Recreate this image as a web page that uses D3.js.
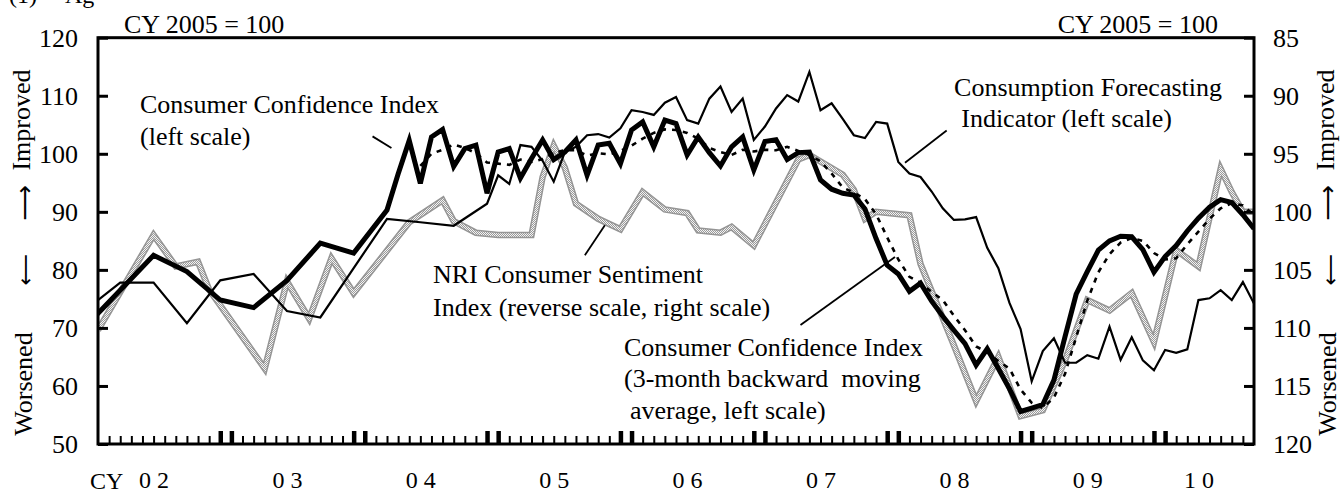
<!DOCTYPE html>
<html><head><meta charset="utf-8">
<script src="https://cdn.jsdelivr.net/npm/d3@7/dist/d3.min.js"></script>
<style>
body{margin:0;background:#fff}
svg{display:block}
text{font-family:"Liberation Serif","Times New Roman",serif;fill:#000}
</style>
</head><body>
<svg id="chart" width="1343" height="493"></svg>
<script>
// ---- data (month index: 0 = Jan 2002) ----
const cciMonths = [-1,2,5,8,11,14,17,20,23,26,27,28,29,30,31,32,33,34,35,36,37,38,39,40,41,42,43,44,45,46,47,48,49,50,51,52,53,54,55,56,57,58,59,60,61,62,63,64,65,66,67,68,69,70,71,72,73,74,75,76,77,78,79,80,81,82,83,84,85,86,87,88,89,90,91,92,93,94,95,96,97,98,99,100,101,102,103,104];
const cciValues = [70.5,76.5,82.5,79.7,74.8,73.5,78.2,84.6,82.9,90.3,96.5,102.3,94.9,102.9,104.2,97.8,100.9,101.5,93.2,100.3,100.9,95.8,99.2,102.4,99.0,100.3,102.4,96.3,101.5,101.8,98.3,104.1,105.5,101.2,105.8,105.2,99.8,102.9,100.2,97.9,101.2,102.9,97.2,102.1,102.4,99.0,100.2,100.3,95.5,93.9,93.2,92.9,90.5,85.4,80.8,79.3,76.3,77.7,74.6,72.0,69.6,67.3,63.6,66.4,63.0,59.5,55.6,56.2,56.8,61.0,68.5,75.8,79.7,83.4,85.0,85.8,85.7,83.5,79.6,82.3,84.2,86.7,88.9,90.8,92.1,91.6,89.5,87.1];

const maMonths = [29,30,31,32,33,34,35,36,37,38,39,40,41,42,43,44,45,46,47,48,49,50,51,52,53,54,55,56,57,58,59,60,61,62,63,64,65,66,67,68,69,70,71,72,73,74,75,76,77,78,79,80,81,82,83,84,85,86,87,88,89,90,91,92,93,94,95,96,97,98,99,100,101,102,103,104];
const maValues = [97.9,100.0,100.7,101.6,101.0,100.1,98.5,98.3,98.1,99.0,98.6,99.1,100.2,100.6,100.6,99.7,100.1,99.9,100.5,101.4,102.6,103.6,104.2,104.1,103.6,102.6,101.0,100.3,99.8,100.7,100.4,100.7,100.6,101.2,100.5,99.8,98.7,96.6,94.2,93.3,92.2,89.6,85.6,81.8,78.8,77.8,76.2,74.8,72.1,69.6,66.8,65.8,64.3,63.0,59.4,57.1,56.2,58.0,62.1,68.4,74.7,79.6,82.7,84.7,85.5,85.0,82.9,81.8,82.0,84.4,86.6,88.8,90.6,91.5,91.1,89.4];

const cfiMonths = [-1,2,5,8,11,14,17,20,23,26,29,32,35,36,37,38,39,40,41,42,43,44,45,46,47,48,49,50,51,52,53,54,55,56,57,58,59,60,61,62,63,64,65,66,67,68,69,70,71,72,73,74,75,76,77,78,79,80,81,82,83,84,85,86,87,88,89,90,91,92,93,94,95,96,97,98,99,100,101,102,103,104];
const cfiValues = [73.3,77.8,77.8,70.8,78.2,79.3,72.9,71.8,80.3,88.8,88.2,87.6,91.4,96.3,94.8,101.5,101.2,98.8,95.2,100.3,101.2,103.2,103.4,102.8,104.4,107.5,107.2,106.7,108.8,109.8,105.8,105.2,109.5,111.6,107.2,109.5,102.4,104.7,107.8,110.1,109.0,114.1,107.5,108.7,106.0,103.2,102.7,105.5,105.2,98.6,96.6,96.0,93.5,90.6,88.6,88.7,89.1,83.8,80.3,74.3,69.8,60.8,66.0,68.2,64.0,64.0,65.3,64.7,70.2,64.5,68.4,64.4,62.7,66.2,65.7,66.3,74.8,75.1,76.5,74.8,77.9,74.2];

const nriMonths = [0,5,7,9,10,15,17,19,21,23,28,31,32,34,36,39,40,41,42,43,45,47,49,51,53,54,56,57,59,63,64,67,68,69,70,73,74,77,79,81,83,85,87,89,91,93,95,97,99,101,102,103,104];
const nriValues = [110.2,102.0,104.7,104.3,106.7,113.5,106.0,109.2,104.0,107.0,100.9,99.0,100.8,101.8,102.0,102.0,97.0,94.3,96.2,99.3,100.6,101.5,98.3,99.8,100.1,101.6,101.8,101.3,102.9,95.5,95.1,96.8,98.1,100.6,100.0,100.3,104.5,111.5,116.3,112.5,117.6,117.1,112.8,107.6,108.5,107.0,111.2,103.3,104.7,96.3,98.3,100.0,100.0];

const leftTicks = [50,60,70,80,90,100,110,120];
const rightTicks = [85,90,95,100,105,110,115,120];
const yearLabelMonths = [5,17,29,41,53,65,77,89,99];
const yearLabels = ["0 2","0 3","0 4","0 5","0 6","0 7","0 8","0 9","1 0"];
const thickTickMonths = [11,12,23,24,35,36,47,48,59,60,71,72,83,84,95,96];

// ---- layout ----
const L = 98, R = 1254, T = 37.7, B = 444;
const svg = d3.select("#chart");
const FONT = '"Liberation Serif","Times New Roman",serif';

const x = d3.scaleLinear().domain([0,104]).range([L,R]);
const yL = d3.scaleLinear().domain([50,120]).range([B,T]);
const yR = d3.scaleLinear().domain([120,85]).range([B,T]);

const defs = svg.append("defs");
defs.append("clipPath").attr("id","plotclip").append("rect")
  .attr("x",L).attr("y",T).attr("width",R-L).attr("height",B-T);
const pat = defs.append("pattern").attr("id","stip").attr("width",2).attr("height",2)
  .attr("patternUnits","userSpaceOnUse");
pat.append("rect").attr("width",2).attr("height",2).attr("fill","#f4f4f4");
pat.append("rect").attr("x",0).attr("y",0).attr("width",1).attr("height",1).attr("fill","#9a9a9a");
pat.append("rect").attr("x",1).attr("y",1).attr("width",1).attr("height",1).attr("fill","#9a9a9a");

const plot = svg.append("g").attr("clip-path","url(#plotclip)");

function pairs(ms, vs){ return ms.map((m,i)=>[m,vs[i]]); }
const lineL = d3.line().x(d=>x(d[0])).y(d=>yL(d[1]));
const lineR = d3.line().x(d=>x(d[0])).y(d=>yR(d[1]));

// NRI (gray stippled, right reversed scale)
plot.append("path").attr("d",lineR(pairs(nriMonths,nriValues)))
  .attr("fill","none").attr("stroke","#959595").attr("stroke-width",6.5);
plot.append("path").attr("d",lineR(pairs(nriMonths,nriValues)))
  .attr("fill","none").attr("stroke","url(#stip)").attr("stroke-width",3.5);

// Consumption Forecasting Indicator (thin)
plot.append("path").attr("d",lineL(pairs(cfiMonths,cfiValues)))
  .attr("fill","none").attr("stroke","#000").attr("stroke-width",2.2);

// Consumer Confidence Index (thick)
plot.append("path").attr("d",lineL(pairs(cciMonths,cciValues)))
  .attr("fill","none").attr("stroke","#000").attr("stroke-width",5);

// 3-month moving average (dashed)
plot.append("path").attr("d",lineL(pairs(maMonths,maValues)))
  .attr("fill","none").attr("stroke","#000").attr("stroke-width",2.6).attr("stroke-dasharray","5,6");

// ---- axes ----
function styleAxis(g){
  g.attr("font-family",FONT).attr("font-size",26);
  g.select(".domain").remove();
}
svg.append("g").attr("transform",`translate(${L},0)`)
  .call(d3.axisLeft(yL).tickValues(leftTicks).tickSize(-10).tickPadding(20).tickFormat(d3.format("d")))
  .call(styleAxis).call(g=>g.selectAll("line").attr("stroke-width",3));
svg.append("g").attr("transform",`translate(${R},0)`)
  .call(d3.axisRight(yR).tickValues(rightTicks).tickSize(-10).tickPadding(19).tickFormat(d3.format("d")))
  .call(styleAxis).call(g=>g.selectAll("line").attr("stroke-width",3));

svg.append("g").attr("transform",`translate(0,${B})`)
  .call(d3.axisBottom(x).tickValues(d3.range(1,104)).tickSize(-8).tickFormat(""))
  .call(styleAxis).call(g=>g.selectAll("line").attr("stroke-width",2));
svg.append("g").attr("transform",`translate(0,${B})`)
  .call(d3.axisBottom(x).tickValues(thickTickMonths).tickSize(-13).tickFormat(""))
  .call(styleAxis).call(g=>g.selectAll("line").attr("stroke-width",4.5));
svg.append("g").attr("transform",`translate(0,${B})`)
  .call(d3.axisBottom(x).tickValues(yearLabelMonths).tickSize(0).tickPadding(27).tickFormat((d,i)=>yearLabels[i]))
  .call(styleAxis).call(g=>g.attr("font-size",24)).call(g=>g.selectAll("line").remove())
  .call(g=>g.selectAll("text").attr("xml:space","preserve"));

// frame
svg.append("rect").attr("x",L).attr("y",T).attr("width",R-L).attr("height",B-T)
  .attr("fill","none").attr("stroke","#000").attr("stroke-width",3);

// ---- texts ----
function txt(s, px, py, size, anchor){
  return svg.append("text").attr("x",px).attr("y",py).attr("font-size",size||26)
    .attr("text-anchor",anchor||"start").attr("xml:space","preserve").text(s);
}
txt("(1)",9,3,24);
txt("Ag",65,3,24);
txt("CY 2005 = 100",124,33);
txt("CY 2005 = 100",1218,33,26,"end");
txt("CY",90,489,24);

txt("Consumer Confidence Index",140,113);
txt("(left scale)",140,145);
txt("Consumption Forecasting",1222,96,26,"end");
txt("Indicator (left scale)",1172,127,26,"end");
txt("NRI Consumer Sentiment",433,283);
txt("Index (reverse scale, right scale)",433,316);
txt("Consumer Confidence Index",624,356);
txt("(3-month backward  moving",624,387);
txt("average, left scale)",630,419);

// side labels
function vtxt(s, px, py, size, rot, fam){
  const t = svg.append("text").attr("transform",`translate(${px},${py}) rotate(${rot||-90})`)
    .attr("font-size",size||26).attr("text-anchor","middle").text(s);
  if (fam) t.style("font-family",fam);
  return t;
}
vtxt("Improved",30,120);
vtxt("Worsened",32,384);
vtxt("Improved",1334,120);
vtxt("Worsened",1336,384);
// arrows
const ARW = '"DejaVu Sans",sans-serif';
vtxt("⟶",33,203,25,-90,ARW);
vtxt("⟶",19,270,22,90,ARW);
vtxt("⟶",1336,203,25,-90,ARW);
vtxt("⟶",1324,270,22,90,ARW);

// leader lines (in data units, left scale)
const leaders = [
  [[24.7,103.0],[26.4,101.0]],
  [[76.35,104.0],[72.6,98.45]],
  [[45.6,87.7],[43.8,82.5]],
  [[71.7,82.2],[63.2,70.5]]
];
svg.append("g").selectAll("line").data(leaders).join("line")
  .attr("x1",d=>x(d[0][0])).attr("y1",d=>yL(d[0][1]))
  .attr("x2",d=>x(d[1][0])).attr("y2",d=>yL(d[1][1]))
  .attr("stroke","#000").attr("stroke-width",1.8);
</script>
</body></html>
